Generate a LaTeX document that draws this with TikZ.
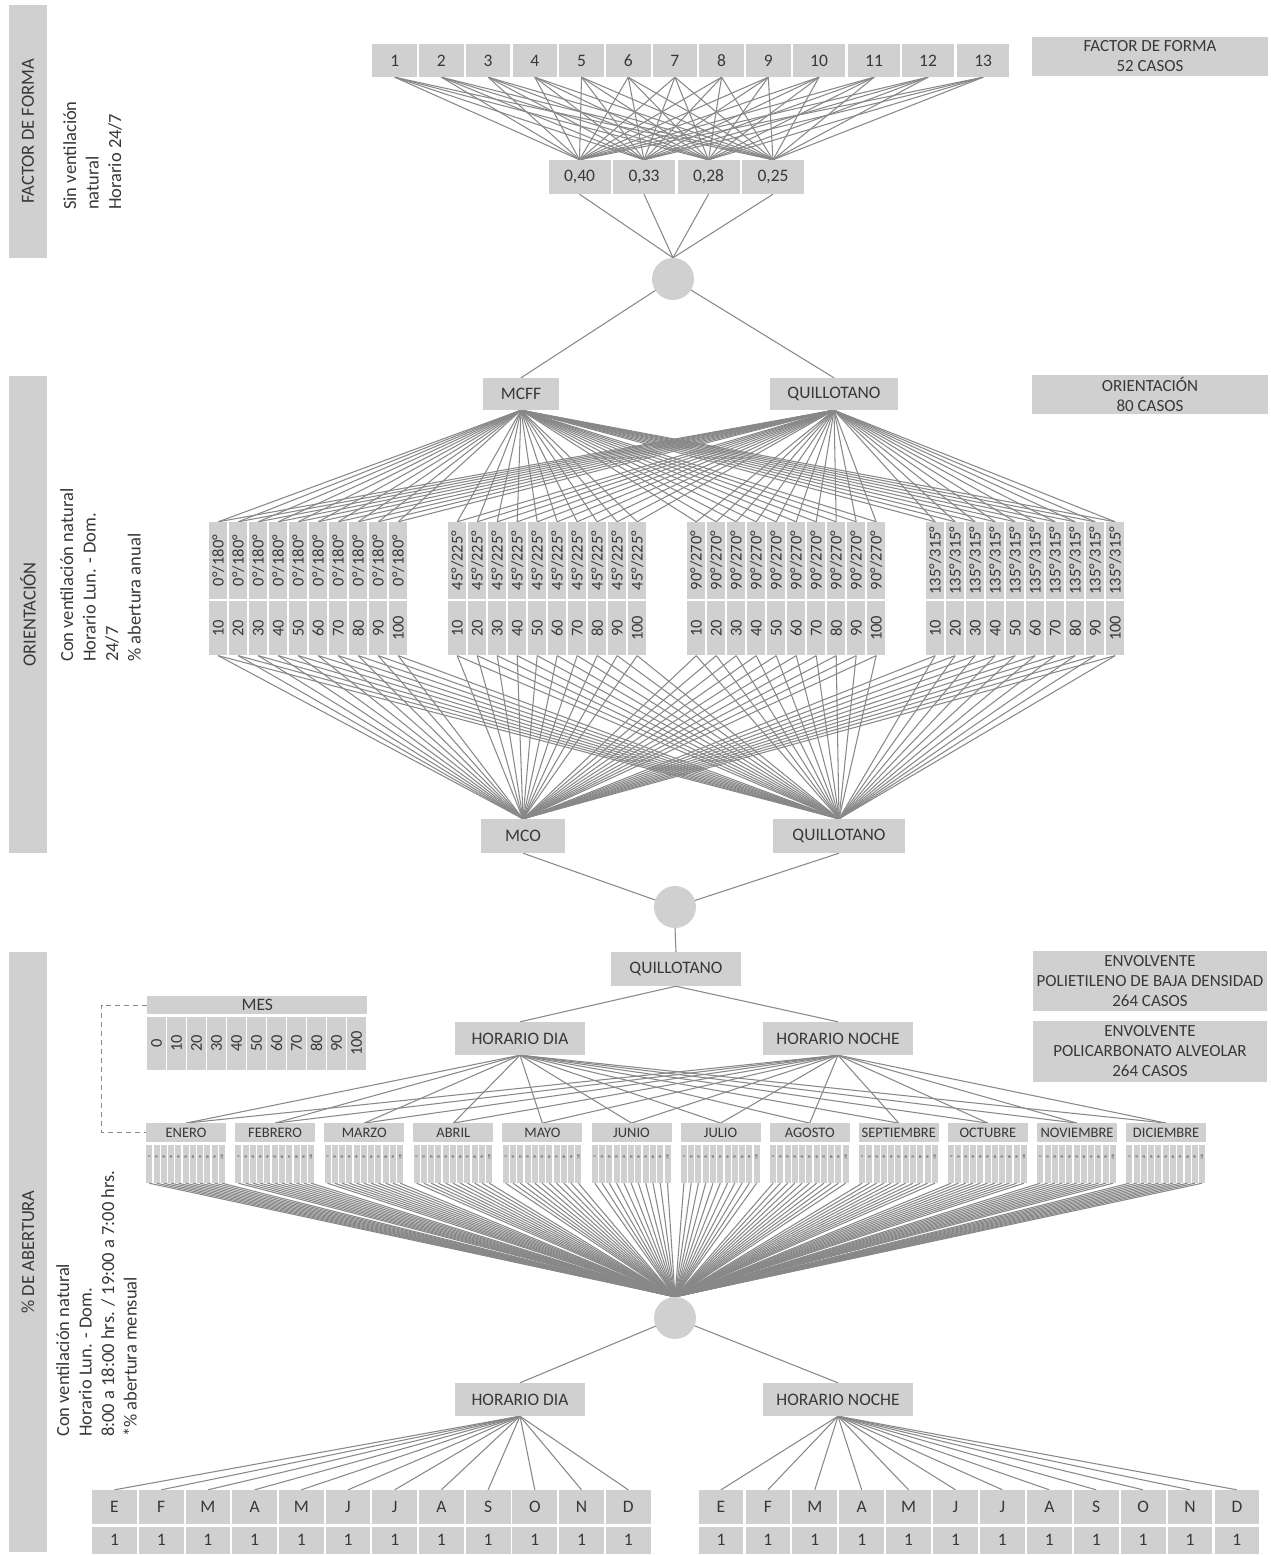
\documentclass[tikz,border=0pt]{standalone}
\usepackage{fontspec}
\setmainfont{Carlito}
\usetikzlibrary{backgrounds}
\definecolor{boxgray}{HTML}{D0D0D0}
\definecolor{linegray}{HTML}{888888}
\definecolor{txt}{HTML}{383838}
\newcommand\fsz[2]{\fontsize{#1}{#2}\selectfont}
\newcommand\angtxt[1]{\ifcase#1 0°/180°\or 45°/225°\or 90°/270°\or 135°/315°\fi}
\newcommand\mestxt[1]{\ifcase#1 ENERO\or FEBRERO\or MARZO\or ABRIL\or MAYO\or JUNIO\or JULIO\or AGOSTO\or SEPTIEMBRE\or OCTUBRE\or NOVIEMBRE\or DICIEMBRE\fi}
\newcommand\letra[1]{\ifcase#1 E\or F\or M\or A\or M\or J\or J\or A\or S\or O\or N\or D\fi}

\begin{document}
\begin{tikzpicture}[x=1pt,y=-1pt,
  cell/.style={fill=boxgray, inner sep=0pt, text=txt, font=\fsz{17.5}{21}},
  ln/.style={draw=linegray, line width=1.05pt},
  hub/.style={circle, fill=boxgray, minimum size=42pt, inner sep=0pt},
  info/.style={cell, align=center, font=\fsz{17}{20}, minimum width=236pt},
  band/.style={fill=boxgray, inner sep=0pt, minimum width=38pt, text=txt, font=\fsz{18.5}{22}},
  note/.style={rotate=90, anchor=north west, align=left, inner sep=0pt, text=txt, font=\fsz{18.5}{22.5}},
  dashline/.style={draw=linegray, line width=1pt, dash pattern=on 5pt off 4pt}]

\useasboundingbox (0,0) rectangle (1270,1555);

% ---------- side bands and notes ----------
\node[band, minimum height=253pt] (band1) at (28,131.5) {\rotatebox{90}{FACTOR DE FORMA}};
\node[band, minimum height=477pt] (band2) at (28,614.5) {\rotatebox{90}{ORIENTACIÓN}};
\node[band, minimum height=600pt] (band3) at (28,1252) {\rotatebox{90}{\% DE ABERTURA}};

\node[note] (note1) at (63,210) {Sin ventilación\\natural\\Horario 24/7};
\node[note] (note2) at (60,662) {Con ventilación natural\\Horario Lun. - Dom.\\24/7\\\% abertura anual};
\node[note] (note3) at (56,1437) {Con ventilación natural\\Horario Lun. - Dom.\\8:00 a 18:00 hrs. / 19:00 a 7:00 hrs.\\*\% abertura mensual};

% ---------- summary boxes ----------
\node[info, minimum height=39pt] (sumff) at (1150,56.5) {FACTOR DE FORMA\\52 CASOS};
\node[info, minimum height=39pt] (sumor) at (1150,394.5) {ORIENTACIÓN\\80 CASOS};
\node[info, minimum width=234pt, minimum height=60pt] (sumpe) at (1150,981) {ENVOLVENTE\\POLIETILENO DE BAJA DENSIDAD\\264 CASOS};
\node[info, minimum width=234pt, minimum height=61pt] (sumpc) at (1150,1051.5) {ENVOLVENTE\\POLICARBONATO ALVEOLAR\\264 CASOS};

% ---------- form factor ----------
\foreach \n/\x in {1/394.7,2/441.4,3/488.1,4/534.8,5/581.5,6/628.2,7/674.9,8/721.6,9/768.3}
  \node[cell, minimum width=44.6pt, minimum height=33pt] (t\n) at (\x,60.5) {\n};
\foreach \n/\x in {10/819.0,11/874.1,12/928.1,13/983.2}
  \node[cell, minimum width=51.5pt, minimum height=33pt] (t\n) at (\x,60.5) {\n};
\foreach \n/\x/\t in {1/579.5/{0,40},2/644/{0,33},3/708.5/{0,28},4/773/{0,25}}
  \node[cell, minimum width=62pt, minimum height=34pt] (f\n) at (\x,177) {\t};
\node[hub] (c1) at (673,279) {};

\node[cell, minimum width=76pt, minimum height=32pt] (mcff) at (521,394) {MCFF};
\node[cell, minimum width=128pt, minimum height=32pt] (q1) at (834,394) {QUILLOTANO};

% ---------- orientation columns ----------
\foreach \g in {0,...,3}
  \foreach \i in {0,...,9} {
    \pgfmathsetmacro\cx{209+239*\g+20*\i+9.2}
    \pgfmathtruncatemacro\v{10*(\i+1)}
    \node[cell, font=\fsz{16.5}{19}, minimum width=18.4pt, minimum height=77pt] (a\g-\i) at (\cx,560.5) {\rotatebox{90}{\angtxt{\g}}};
    \node[cell, font=\fsz{16.5}{19}, minimum width=18.4pt, minimum height=54.5pt] (b\g-\i) at (\cx,628.2) {\rotatebox{90}{\v}};
  }

\node[cell, minimum width=84pt, minimum height=34pt] (mco) at (523,836) {MCO};
\node[cell, minimum width=132pt, minimum height=34pt] (q2) at (839,836) {QUILLOTANO};
\node[hub] (c2) at (675,907) {};

% ---------- monthly opening ----------
\node[cell, minimum width=130pt, minimum height=34pt] (q3) at (676,969) {QUILLOTANO};
\node[cell, minimum width=130pt, minimum height=33pt] (hd1) at (520,1038.5) {HORARIO DIA};
\node[cell, minimum width=150pt, minimum height=33pt] (hn1) at (838,1038.5) {HORARIO NOCHE};

\node[cell, minimum width=220pt, minimum height=18pt] (mes) at (257.3,1005) {MES};
\foreach \k in {0,...,10} {
  \pgfmathsetmacro\cx{147.3+20*\k+9.35}
  \pgfmathtruncatemacro\v{10*\k}
  \node[cell, font=\fsz{16.5}{19}, minimum width=18.7pt, minimum height=53.3pt] (mc\k) at (\cx,1043.3) {\rotatebox{90}{\v}};
}

\foreach \m in {0,...,11} {
  \pgfmathsetmacro\mx{146+89.1*\m}
  \node[cell, font=\fsz{14.5}{17}, minimum width=80pt, minimum height=18.4pt] (m\m) at (\mx+40,1132.5) {\mestxt{\m}};
  \foreach \k in {0,...,10} {
    \pgfmathsetmacro\sx{\mx+7.27*\k+3.3}
    \pgfmathtruncatemacro\v{10*\k}
    \node[fill=boxgray, inner sep=0pt, minimum width=6pt, minimum height=38pt] (s\m-\k) at (\sx,1164) {};
    \node[inner sep=0pt, text=txt, font=\fsz{3.5}{4}] at (\sx,1157) {\rotatebox{90}{\v}};
  }
}
\node[hub] (c3) at (675,1318) {};

\coordinate (dtop) at (101.5,1005);
\coordinate (dbot) at (101.5,1132.5);

\node[cell, minimum width=130pt, minimum height=33pt] (hd2) at (520,1399.5) {HORARIO DIA};
\node[cell, minimum width=150pt, minimum height=33pt] (hn2) at (838,1399.5) {HORARIO NOCHE};

\foreach \k in {0,...,11} {
  \pgfmathsetmacro\lx{114.5+46.7*\k}
  \pgfmathsetmacro\rx{721+46.9*\k}
  \node[cell, minimum width=44.8pt, minimum height=34pt] (le\k) at (\lx,1507) {\letra{\k}};
  \node[cell, minimum width=44.8pt, minimum height=27pt] (lv\k) at (\lx,1540.2) {1};
  \node[cell, minimum width=44.8pt, minimum height=34pt] (re\k) at (\rx,1507) {\letra{\k}};
  \node[cell, minimum width=44.8pt, minimum height=27pt] (rv\k) at (\rx,1540.2) {1};
}

% ---------- connectors (behind the boxes) ----------
\begin{pgfonlayer}{background}
  \fill[white] (0,0) rectangle (1270,1555);
  \foreach \a in {1,...,13}
    \foreach \b in {1,...,4}
      \draw[ln] (t\a.south) -- (f\b.north);
  \foreach \b in {1,...,4}
    \draw[ln] (f\b.south) -- (c1.north);
  \draw[ln] (c1.center) -- (mcff.north);
  \draw[ln] (c1.center) -- (q1.north);
  \foreach \g in {0,...,3}
    \foreach \i in {0,...,9} {
      \draw[ln] (mcff.south) -- (a\g-\i.north);
      \draw[ln] (q1.south) -- (a\g-\i.north);
      \draw[ln] (b\g-\i.south) -- (mco.north);
      \draw[ln] (b\g-\i.south) -- (q2.north);
    }
  \draw[ln] (mco.south) -- (c2.center);
  \draw[ln] (q2.south) -- (c2.center);
  \draw[ln] (c2.south) -- (q3.north);
  \draw[ln] (q3.south) -- (hd1.north);
  \draw[ln] (q3.south) -- (hn1.north);
  \foreach \m in {0,...,11} {
    \draw[ln] (hd1.south) -- (m\m.north);
    \draw[ln] (hn1.south) -- (m\m.north);
    \foreach \k in {0,...,10}
      \draw[ln] (s\m-\k.south) -- (c3.north);
  }
  \draw[dashline] (mes.west) -- (dtop) -- (dbot) -- (m0.west);
  \draw[ln] (c3.center) -- (hd2.north);
  \draw[ln] (c3.center) -- (hn2.north);
  \foreach \k in {0,...,11} {
    \draw[ln] (hd2.south) -- (le\k.north);
    \draw[ln] (hn2.south) -- (re\k.north);
  }
\end{pgfonlayer}
\end{tikzpicture}
\end{document}
